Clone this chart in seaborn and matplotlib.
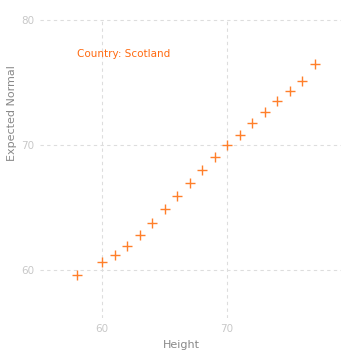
import matplotlib
matplotlib.use("Agg")
import matplotlib.pyplot as plt
import seaborn as sns
import pandas as pd

height = [58, 60, 61, 62, 63, 64, 65, 66, 67, 68, 69, 70, 71, 72, 73, 74, 75, 76, 77]
expected_normal = [59.6, 60.64, 61.2, 61.9, 62.8, 63.76, 64.85, 65.9, 66.96, 68.0,
                   69.04, 70.0, 70.8, 71.76, 72.66, 73.52, 74.32, 75.12, 76.48]
country_label = "Country: Scotland"
x_ticks = [60, 70]
y_ticks = [60, 70, 80]

df = pd.DataFrame({"Height": height, "Expected Normal": expected_normal})

sns.set_style("white")
fig = plt.figure(figsize=(3.59, 3.58), dpi=100)
ax = fig.add_axes([40/359, 1 - 318/358, 301/359, 299/358])

sns.scatterplot(data=df, x="Height", y="Expected Normal", marker="+", s=50,
                color="#ff7f2a", linewidth=1.0, ax=ax, zorder=3)

ax.set_xlim(55.04, 79.12)
ax.set_ylim(56.16, 80.08)
ax.set_xticks(x_ticks)
ax.set_yticks(y_ticks)
ax.grid(True, color="#dddddd", linestyle=(0, (3, 3)), linewidth=0.8)
for s in ax.spines.values():
    s.set_visible(False)
ax.tick_params(axis="both", length=0, labelsize=7.5, labelcolor="#c8c8c8", pad=4)
ax.set_xlabel("Height", fontsize=8, color="#888888")
ax.set_ylabel("Expected Normal", fontsize=8, color="#888888")
ax.xaxis.set_label_coords((181 - 40) / 301, -(345 - 318) / 299)
ax.yaxis.set_label_coords(-(40 - 12) / 301, (318 - 113) / 299)
ax.xaxis.label.set_va("center")
ax.yaxis.label.set_va("center")
ax.text(58, 77.3, country_label, color="#ff6a10", fontsize=7.5, va="center", ha="left")

fig.savefig("out.png", dpi=100)
